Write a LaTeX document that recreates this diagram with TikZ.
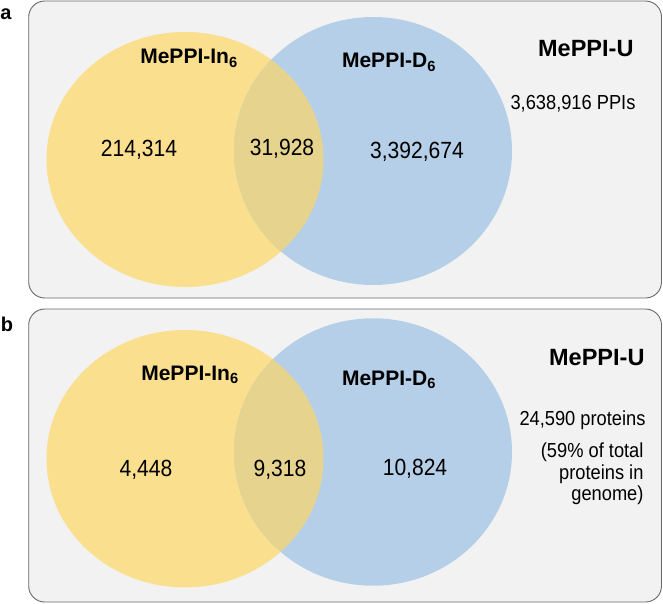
\documentclass[tikz,border=0pt]{standalone}
\usepackage{fontspec}
\setmainfont{Liberation Sans}
\newfontfamily\narrowfont[FakeStretch=0.9]{Liberation Sans}
\definecolor{meppiyellow}{RGB}{250,223,142}
\definecolor{meppiblue}{RGB}{181,207,232}
\definecolor{meppioverlap}{RGB}{230,212,142}
\definecolor{panelgray}{RGB}{242,242,242}
\definecolor{panelframe}{RGB}{105,105,105}

\begin{document}
\begin{tikzpicture}[x=1pt,y=-1pt,
    panel/.style={fill=panelgray,draw=panelframe,line width=0.9pt,rounded corners=16pt},
    setname/.style={font=\fontsize{21}{24}\selectfont\bfseries,anchor=base},
    unionname/.style={font=\fontsize{23.5}{27}\selectfont\bfseries,anchor=base east},
    count/.style={font=\narrowfont\fontsize{23.4}{26}\selectfont,anchor=base},
    info/.style={font=\narrowfont\fontsize{20.3}{21.5}\selectfont,anchor=base east,align=right},
    tag/.style={font=\fontsize{20}{24}\selectfont\bfseries}]
  \useasboundingbox (0,0) rectangle (663,604);
  % panel a
  \fill[panel] (28.7,1) rectangle (661.5,298);
  \fill[meppiyellow] (185,159.5) ellipse [x radius=138.5pt, y radius=127.5pt];
  \fill[meppiblue] (373,151) ellipse [x radius=139pt, y radius=134pt];
  \begin{scope}
    \clip (185,159.5) ellipse [x radius=138.5pt, y radius=127.5pt];
    \fill[meppioverlap] (373,151) ellipse [x radius=139pt, y radius=134pt];
  \end{scope}
  \node[tag] (taga) at (6,14) {a};
  \node[setname] (ina) at (189,64) {MePPI-In\textsubscript{6}};
  \node[setname] (da) at (389,68) {MePPI-D\textsubscript{6}};
  \node[unionname] (ua) at (637,57) {MePPI-U};
  \node[info] (ppia) at (639,110) {3,638,916 PPIs};
  \node[count] (onlyina) at (139,157) {214,314};
  \node[count] (botha) at (282,156) {31,928};
  \node[count] (onlyda) at (417,159) {3,392,674};
  % panel b
  \fill[panel] (28.7,309) rectangle (661.5,602);
  \fill[meppiyellow] (185,458.7) ellipse [x radius=138.5pt, y radius=128.7pt];
  \fill[meppiblue] (373,452) ellipse [x radius=139pt, y radius=133.7pt];
  \begin{scope}
    \clip (185,458.7) ellipse [x radius=138.5pt, y radius=128.7pt];
    \fill[meppioverlap] (373,452) ellipse [x radius=139pt, y radius=133.7pt];
  \end{scope}
  \node[tag] (tagb) at (7,324) {b};
  \node[setname] (inb) at (190,380) {MePPI-In\textsubscript{6}};
  \node[setname] (db) at (389,385) {MePPI-D\textsubscript{6}};
  \node[unionname] (ub) at (648,365) {MePPI-U};
  \node[info] (protb) at (649,425) {24,590 proteins};
  \node[info,anchor=east] (shareb) at (647,474) {(59\% of total\\proteins in\\genome)};
  \node[count] (onlyinb) at (146,476) {4,448};
  \node[count] (bothb) at (280,476) {9,318};
  \node[count] (onlydb) at (415,475) {10,824};
\end{tikzpicture}
\end{document}
